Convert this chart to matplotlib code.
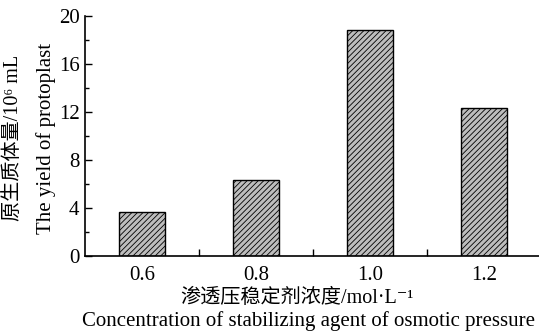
import numpy as np
import matplotlib.pyplot as plt
from matplotlib.ticker import MultipleLocator, FixedLocator

plt.rcParams['font.family'] = ['Liberation Serif', 'Noto Sans CJK SC', 'DejaVu Serif']
plt.rcParams['hatch.linewidth'] = 0.6
plt.rcParams['hatch.color'] = '#333333'

# ── data ───────────────────────────────────────────────────────────────────────
concentrations = ["0.6", "0.8", "1.0", "1.2"]
yields = [3.7, 6.35, 18.8, 12.3]

ylabel_cn = "原生质体量/10⁶ mL"
ylabel_en = "The yield of protoplast"
xlabel_cn = "渗透压稳定剂浓度/mol·L⁻¹"
xlabel_en = "Concentration of stabilizing agent of osmotic pressure"

# ── plot ───────────────────────────────────────────────────────────────────────
fig = plt.figure(figsize=(5.39, 3.33), dpi=100)
ax = fig.add_axes([85 / 539, 1 - 256 / 333, 456 / 539, 240 / 333])

x = np.arange(len(concentrations))
ax.bar(x, yields, width=0.4, color='#bdbdbd', edgecolor='black',
       linewidth=1.0, hatch='//////')

ax.set_xlim(-0.5, 3.5)
ax.set_ylim(0, 20)
ax.set_xticks(x)
ax.set_xticklabels(concentrations)
ax.xaxis.set_minor_locator(FixedLocator([0.5, 1.5, 2.5]))
ax.yaxis.set_major_locator(MultipleLocator(4))
ax.yaxis.set_minor_locator(MultipleLocator(2))

ax.spines['top'].set_visible(False)
ax.spines['right'].set_visible(False)
for s in ('left', 'bottom'):
    ax.spines[s].set_linewidth(1.2)

ax.tick_params(axis='both', which='both', direction='in', labelsize=15, width=1.0)
ax.tick_params(axis='y', which='major', length=5, pad=4)
ax.tick_params(axis='y', which='minor', length=3)
ax.tick_params(axis='x', which='major', length=0, pad=7)
ax.tick_params(axis='x', which='minor', length=5)

fig.text(14 / 539, 1 - 138 / 333, ylabel_cn, rotation=90, ha='center', va='center', fontsize=14.5)
fig.text(46 / 539, 1 - 138 / 333, ylabel_en, rotation=90, ha='center', va='center', fontsize=15)
fig.text(297 / 539, 1 - 298 / 333, xlabel_cn, ha='center', va='center', fontsize=14.5)
fig.text(308 / 539, 1 - 321 / 333, xlabel_en, ha='center', va='center', fontsize=15)

plt.savefig("out.png", dpi=100)
